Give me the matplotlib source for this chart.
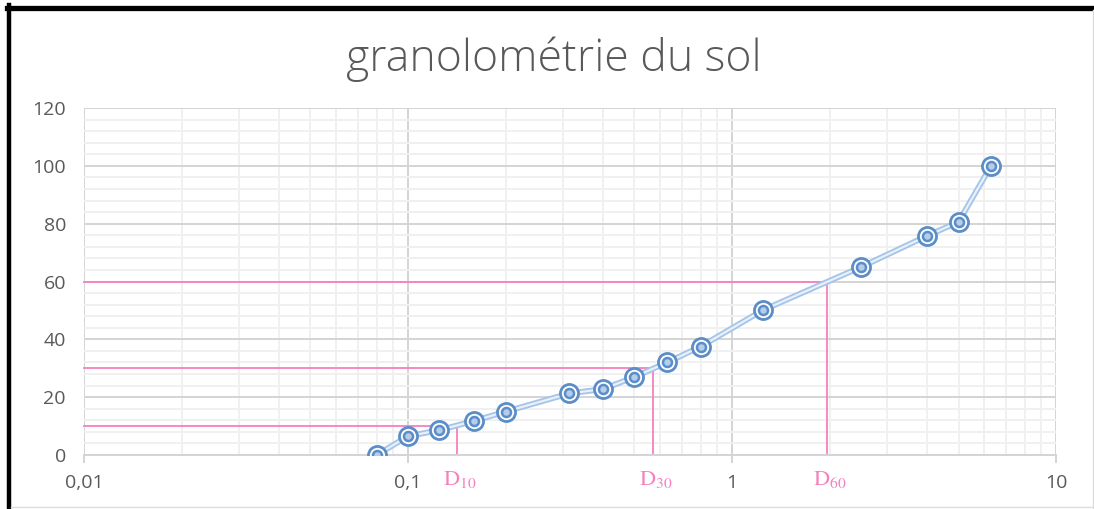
import matplotlib
matplotlib.use("Agg")
import matplotlib.pyplot as plt
from matplotlib.lines import Line2D
from matplotlib.ticker import LogLocator, FixedLocator, FuncFormatter, NullFormatter, MultipleLocator

# sieve sizes (mm) and cumulative passing (%)
sizes = [0.08, 0.1, 0.125, 0.16, 0.2, 0.315, 0.4, 0.5, 0.63, 0.8, 1.25, 2.5, 4, 5, 6.3]
passing = [0, 6.5, 8.6, 11.8, 15, 21.3, 22.8, 27, 32, 37.5, 50.2, 65, 75.8, 80.6, 100]

# characteristic diameters
d_labels = ["10", "30", "60"]
d_pct = [10, 30, 60]
d_vals = [0.142, 0.569, 1.965]

pink = '#f77fbe'
blue = '#5b8ec8'
grey_txt = '#595959'

fig = plt.figure(figsize=(10.94, 5.09), dpi=100)
ax = fig.add_axes([0.0768, 0.1061, 0.8885, 0.6817])

ax.set_xscale('log')
ax.set_xlim(0.01, 10)
ax.set_ylim(0, 120)

ax.xaxis.set_major_locator(FixedLocator([0.01, 0.1, 1, 10]))
ax.xaxis.set_minor_locator(LogLocator(base=10, subs=range(2, 10)))
ax.xaxis.set_major_formatter(FuncFormatter(lambda v, p: ('%g' % v).replace('.', ',')))
ax.xaxis.set_minor_formatter(NullFormatter())
ax.yaxis.set_major_locator(MultipleLocator(20))
ax.yaxis.set_minor_locator(MultipleLocator(4))

ax.grid(which='major', color='#d4d4d4', lw=1.4, zorder=0)
ax.grid(which='minor', color='#f0f0f0', lw=1.4, zorder=0)
for s in ax.spines.values():
    s.set_visible(False)
ax.spines['bottom'].set_visible(True)
ax.spines['bottom'].set_color('#d4d4d4')
ax.spines['bottom'].set_linewidth(1.4)

ax.tick_params(axis='x', which='major', length=6, width=1.4, color='#d4d4d4',
               pad=8, labelsize=14, labelcolor=grey_txt)
ax.tick_params(axis='x', which='minor', length=0)
ax.tick_params(axis='y', which='both', length=0, pad=13, labelsize=14, labelcolor=grey_txt)
for lab in ax.get_xticklabels() + ax.get_yticklabels():
    lab.set_fontfamily('Open Sans')

# D10 / D30 / D60 construction lines
for lbl, p, d in zip(d_labels, d_pct, d_vals):
    ax.plot([0.01, d], [p, p], color=pink, lw=1.3, zorder=2, clip_on=False)
    ax.plot([d, d], [p, 0], color=pink, lw=1.3, zorder=2)
    ax.text(d * 1.02, -8.6, r'$\mathrm{D}_{\mathrm{%s}}$' % lbl, color=pink, ha='center', va='center',
            fontsize=16, math_fontfamily='stix')

# curve: double light-blue line
ax.plot(sizes, passing, color='#a4c4e8', lw=4.2, zorder=3, solid_capstyle='round')
ax.plot(sizes, passing, color='#e8f0fa', lw=1.6, zorder=4, solid_capstyle='round')
ax.plot(sizes, passing, ls='none', marker='o', ms=13, mfc='white', mec=blue, mew=2.0, zorder=5)
ax.plot(sizes, passing, ls='none', marker='o', ms=6.5, mfc='#b4cdea', mec=blue, mew=1.8, zorder=6)

fig.text(0.506, 0.884, 'granolométrie du sol', ha='center', va='center',
         fontsize=32, color=grey_txt, family='Open Sans', weight='light')

# screenshot frame
fig.add_artist(Line2D([7/1094, 1], [1-7.5/509]*2, color='black', lw=3.8))
fig.add_artist(Line2D([9/1094]*2, [0, 1-5/509], color='black', lw=3.2))
fig.add_artist(Line2D([1092.5/1094]*2, [0, 1-10/509], color='#dcdcdc', lw=1))
fig.add_artist(Line2D([11/1094, 1], [2.5/509]*2, color='#dcdcdc', lw=1))

fig.savefig('out.png', dpi=100)
